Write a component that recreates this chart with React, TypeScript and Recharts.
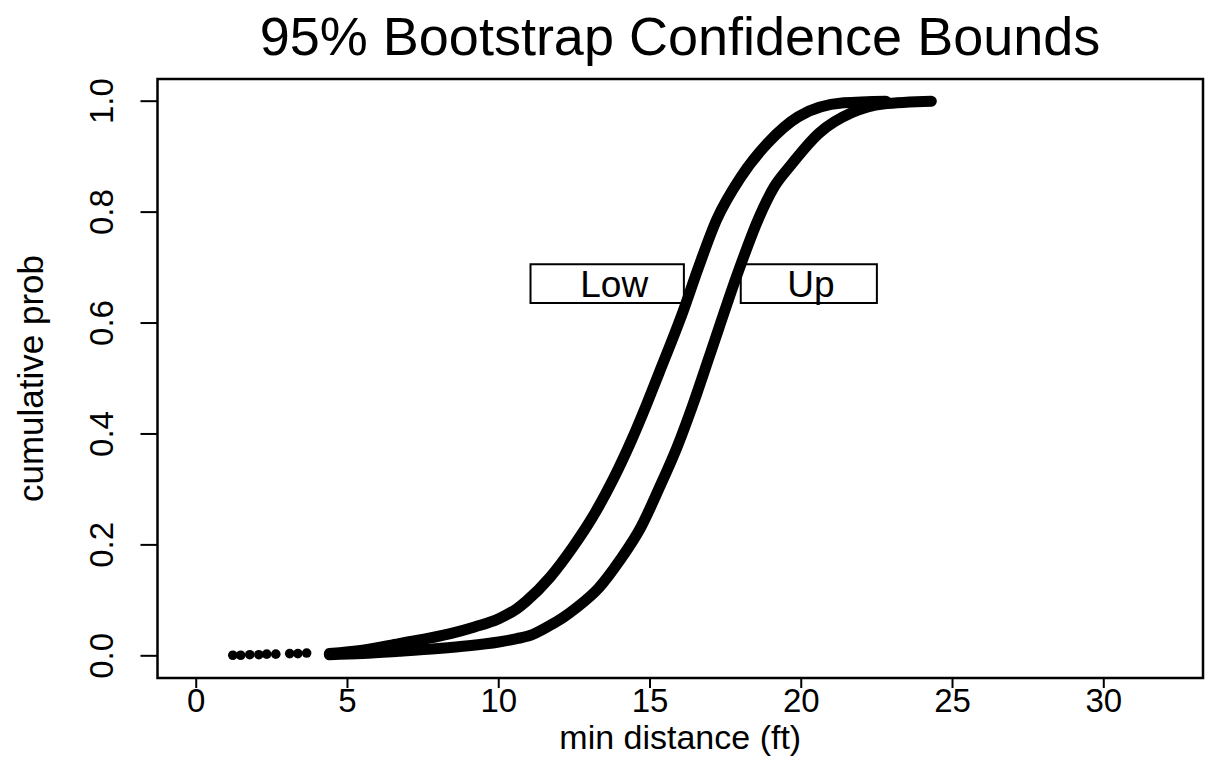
import React from 'react';
import {
  ComposedChart,
  Line,
  Scatter,
  XAxis,
  YAxis,
  ReferenceArea,
} from 'recharts';

// ---- data ----
const lowTailX = [1.21, 1.47, 1.77, 2.07, 2.33, 2.63, 3.09, 3.36, 3.65];
const lowTailY = [0.001, 0.001, 0.002, 0.002, 0.003, 0.003, 0.004, 0.004, 0.005];

const lowX = [4.4, 5.5, 6.7, 8.4, 9.2, 10.0, 10.6, 10.9, 11.7, 12.45, 13.1, 13.8, 14.4, 14.9, 15.3, 16.1, 16.6, 17.2, 18.0, 18.9, 19.9, 21.4, 22.8];
const lowY = [0.004, 0.01, 0.022, 0.04, 0.052, 0.067, 0.085, 0.098, 0.142, 0.196, 0.25, 0.32, 0.39, 0.455, 0.51, 0.622, 0.7, 0.786, 0.863, 0.925, 0.972, 0.997, 1.0];

const upX = [4.4, 5.5, 6.7, 8.0, 9.0, 10.0, 10.6, 11.0, 11.7, 12.1, 12.6, 13.3, 14.0, 14.7, 15.3, 15.9, 16.4, 17.0, 17.9, 18.6, 19.1, 19.6, 20.6, 21.7, 22.7, 24.3];
const upY = [0.002, 0.004, 0.008, 0.013, 0.018, 0.025, 0.031, 0.036, 0.055, 0.068, 0.088, 0.122, 0.172, 0.232, 0.302, 0.377, 0.45, 0.546, 0.69, 0.79, 0.845, 0.881, 0.943, 0.98, 0.995, 1.0];

const xTicks = [0, 5, 10, 15, 20, 25, 30];
const yTicks = [0, 0.2, 0.4, 0.6, 0.8, 1.0];

const title = '95% Bootstrap Confidence Bounds';
const xLabel = 'min distance (ft)';
const yLabel = 'cumulative prob';
const lowLabel = 'Low';
const upLabel = 'Up';

const X_DOMAIN: [number, number] = [-1.28, 33.28];
const Y_DOMAIN: [number, number] = [-0.04, 1.04];

const tailData = lowTailX.map((x, i) => ({ x, y: lowTailY[i] }));
const lowData = lowX.map((x, i) => ({ x, y: lowY[i] }));
const upData = upX.map((x, i) => ({ x, y: upY[i] }));

const FONT = '"Liberation Sans", Arial, Helvetica, sans-serif';

const YTick = (props: any) => {
  const { x, y, payload } = props;
  return (
    <text
      x={x}
      y={y}
      transform={`rotate(-90, ${x}, ${y})`}
      textAnchor="middle"
      fontSize={33}
      fontFamily={FONT}
      fill="#000"
    >
      {Number(payload.value).toFixed(1)}
    </text>
  );
};

const XTick = (props: any) => {
  const { x, y, payload } = props;
  return (
    <text x={x} y={y + 22} textAnchor="middle" fontSize={33} fontFamily={FONT} fill="#000">
      {payload.value}
    </text>
  );
};

const Dot = (props: any) => {
  const { cx, cy } = props;
  return <circle cx={cx} cy={cy} r={4.8} fill="#000" />;
};

export default function App() {
  return (
    <div style={{ position: 'absolute', left: 0, top: 0, width: 1207, height: 757, background: '#fff' }}>
      <ComposedChart
        width={1207}
        height={757}
        margin={{ top: 79, right: 4, bottom: 0, left: 0 }}
      >
        <text x={680} y={55} textAnchor="middle" fontSize={54} fontFamily={FONT} fill="#000">
          {title}
        </text>
        <XAxis
          type="number"
          dataKey="x"
          domain={X_DOMAIN}
          ticks={xTicks}
          allowDataOverflow
          height={79}
          axisLine={false}
          tickSize={10}
          tickMargin={2}
          tickLine={{ stroke: '#000', strokeWidth: 2 }}
          tick={<XTick />}
          label={{
            content: (p: any) => {
              const vb = p.viewBox || {};
              return (
                <text
                  x={vb.x + vb.width / 2}
                  y={749}
                  textAnchor="middle"
                  fontSize={34}
                  fontFamily={FONT}
                  fill="#000"
                >
                  {xLabel}
                </text>
              );
            },
          }}
        />
        <YAxis
          type="number"
          dataKey="y"
          domain={Y_DOMAIN}
          ticks={yTicks}
          allowDataOverflow
          width={157.5}
          axisLine={false}
          tickSize={17}
          tickMargin={27.5}
          tickLine={{ stroke: '#000', strokeWidth: 2 }}
          tick={<YTick />}
          label={{
            content: () => (
              <text
                x={43}
                y={378.5}
                transform="rotate(-90, 43, 378.5)"
                textAnchor="middle"
                fontSize={35}
                fontFamily={FONT}
                fill="#000"
              >
                {yLabel}
              </text>
            ),
          }}
        />
        <ReferenceArea
          x1={X_DOMAIN[0]}
          x2={X_DOMAIN[1]}
          y1={Y_DOMAIN[0]}
          y2={Y_DOMAIN[1]}
          fill="none"
          fillOpacity={0}
          stroke="#000"
          strokeWidth={2.5}
          ifOverflow="visible"
        />
        <Scatter
          data={tailData}
          dataKey="y"
          fill="#000"
          shape={<Dot />}
          isAnimationActive={false}
        />
        <Line
          data={lowData}
          dataKey="y"
          type="monotone"
          stroke="#000"
          strokeWidth={11}
          strokeLinecap="round"
          strokeLinejoin="round"
          dot={false}
          activeDot={false}
          isAnimationActive={false}
        />
        <Line
          data={upData}
          dataKey="y"
          type="monotone"
          stroke="#000"
          strokeWidth={11}
          strokeLinecap="round"
          strokeLinejoin="round"
          dot={false}
          activeDot={false}
          isAnimationActive={false}
        />
        <ReferenceArea
          x1={11.05}
          x2={16.12}
          y1={0.636}
          y2={0.706}
          fill="#fff"
          fillOpacity={1}
          stroke="#000"
          strokeWidth={2}
          label={{ value: lowLabel, position: 'center', fontSize: 37, fill: '#000', fontFamily: FONT, dx: 7 }}
        />
        <ReferenceArea
          x1={18.0}
          x2={22.5}
          y1={0.636}
          y2={0.706}
          fill="#fff"
          fillOpacity={1}
          stroke="#000"
          strokeWidth={2}
          label={{ value: upLabel, position: 'center', fontSize: 37, fill: '#000', fontFamily: FONT, dx: 2 }}
        />
      </ComposedChart>
    </div>
  );
}
